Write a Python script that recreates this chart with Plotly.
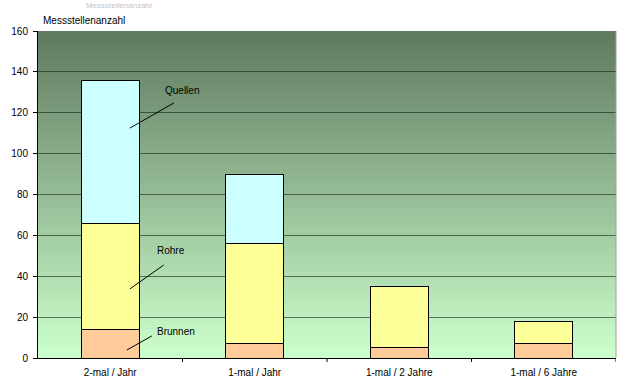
import plotly.graph_objects as go

categories = ["2-mal / Jahr", "1-mal / Jahr", "1-mal / 2 Jahre", "1-mal / 6 Jahre"]
brunnen = [14, 7, 5, 7]
rohre = [52, 49, 30, 11]
quellen = [70, 34, 0, 0]
y_ticks = [0, 20, 40, 60, 80, 100, 120, 140, 160]

FONT = "Liberation Sans, Arial"
fig = go.Figure()
x_idx = list(range(len(categories)))
for name, vals, col in [("Brunnen", brunnen, "#ffcc99"), ("Rohre", rohre, "#ffff99"), ("Quellen", quellen, "#ccffff")]:
    fig.add_trace(go.Bar(x=x_idx, y=vals, name=name, marker=dict(color=col, line=dict(color="black", width=1)),
                         width=0.4, showlegend=False))

# gradient background
top = (96, 122, 96)
bot = (204, 255, 204)
n = 80
shapes = []
for i in range(n):
    t = i / (n - 1)
    c = tuple(int(round(bot[k] + (top[k] - bot[k]) * t)) for k in range(3))
    shapes.append(dict(type="rect", xref="x domain", yref="y", x0=0, x1=1,
                       y0=160 * i / n, y1=min(160, 160 * (i + 1) / n + 1.5), fillcolor="rgb(%d,%d,%d)" % c,
                       line=dict(width=0), layer="below"))
# right border
shapes.append(dict(type="line", xref="x domain", yref="y domain", x0=1, x1=1, y0=0, y1=1,
                   line=dict(color="#a0a0a0", width=1)))
# leader lines
for (x0, y0, x1, y1) in [(0.136, 112.5, 0.44, 124.8), (0.136, 33.8, 0.37, 45.5), (0.115, 3.9, 0.288, 10.8)]:
    shapes.append(dict(type="line", xref="x", yref="y", x0=x0, y0=y0, x1=x1, y1=y1,
                       line=dict(color="black", width=1)))
fig.update_layout(shapes=shapes)

for txt, x, y in [("Quellen", 0.495, 131), ("Rohre", 0.42, 52.8), ("Brunnen", 0.453, 13.2)]:
    fig.add_annotation(x=x, y=y, text=txt, showarrow=False, xref="x", yref="y",
                       font=dict(family=FONT, size=10, color="black"))

fig.add_annotation(x=0, y=1, xref="paper", yref="paper", xanchor="left", yanchor="bottom",
                   xshift=3, yshift=3, text="Messstellenanzahl", showarrow=False,
                   font=dict(family=FONT, size=10, color="black"))
fig.add_annotation(x=0.08, y=1, xref="paper", yref="paper", xanchor="left", yanchor="bottom",
                   yshift=19, text="Messstellenanzahl", showarrow=False,
                   font=dict(family=FONT, size=8, color="#c4c4c4"))

fig.update_layout(
    barmode="stack",
    width=619, height=383,
    margin=dict(l=38, r=3, t=31, b=25, autoexpand=False),
    paper_bgcolor="white",
    plot_bgcolor="rgba(0,0,0,0)",
    font=dict(family=FONT, size=10, color="black"),
    xaxis=dict(tickmode="array", tickvals=x_idx, ticktext=categories, range=[-0.5, 3.5],
               showgrid=False, showline=True, linecolor="black", linewidth=1,
               ticks="", zeroline=False, automargin=False, ticklabelstandoff=5),
    yaxis=dict(range=[0, 160], tickvals=y_ticks, showgrid=True, gridcolor="rgba(15,35,15,0.6)", gridwidth=1,
               showline=True, linecolor="black", linewidth=1, ticks="outside", ticklen=4,
               tickcolor="black", zeroline=False, automargin=False, ticklabelstandoff=3),
)
# tick marks between categories on x axis
for b in [0.5, 1.5, 2.5, 3.5]:
    fig.add_shape(type="line", xref="x", yref="paper", x0=b, x1=b, y0=0, y1=-0.012,
                  line=dict(color="black", width=1))

fig.write_html("out.html", config={"displayModeBar": False},
               post_script="document.body.style.margin='0';document.body.style.overflow='hidden';")
